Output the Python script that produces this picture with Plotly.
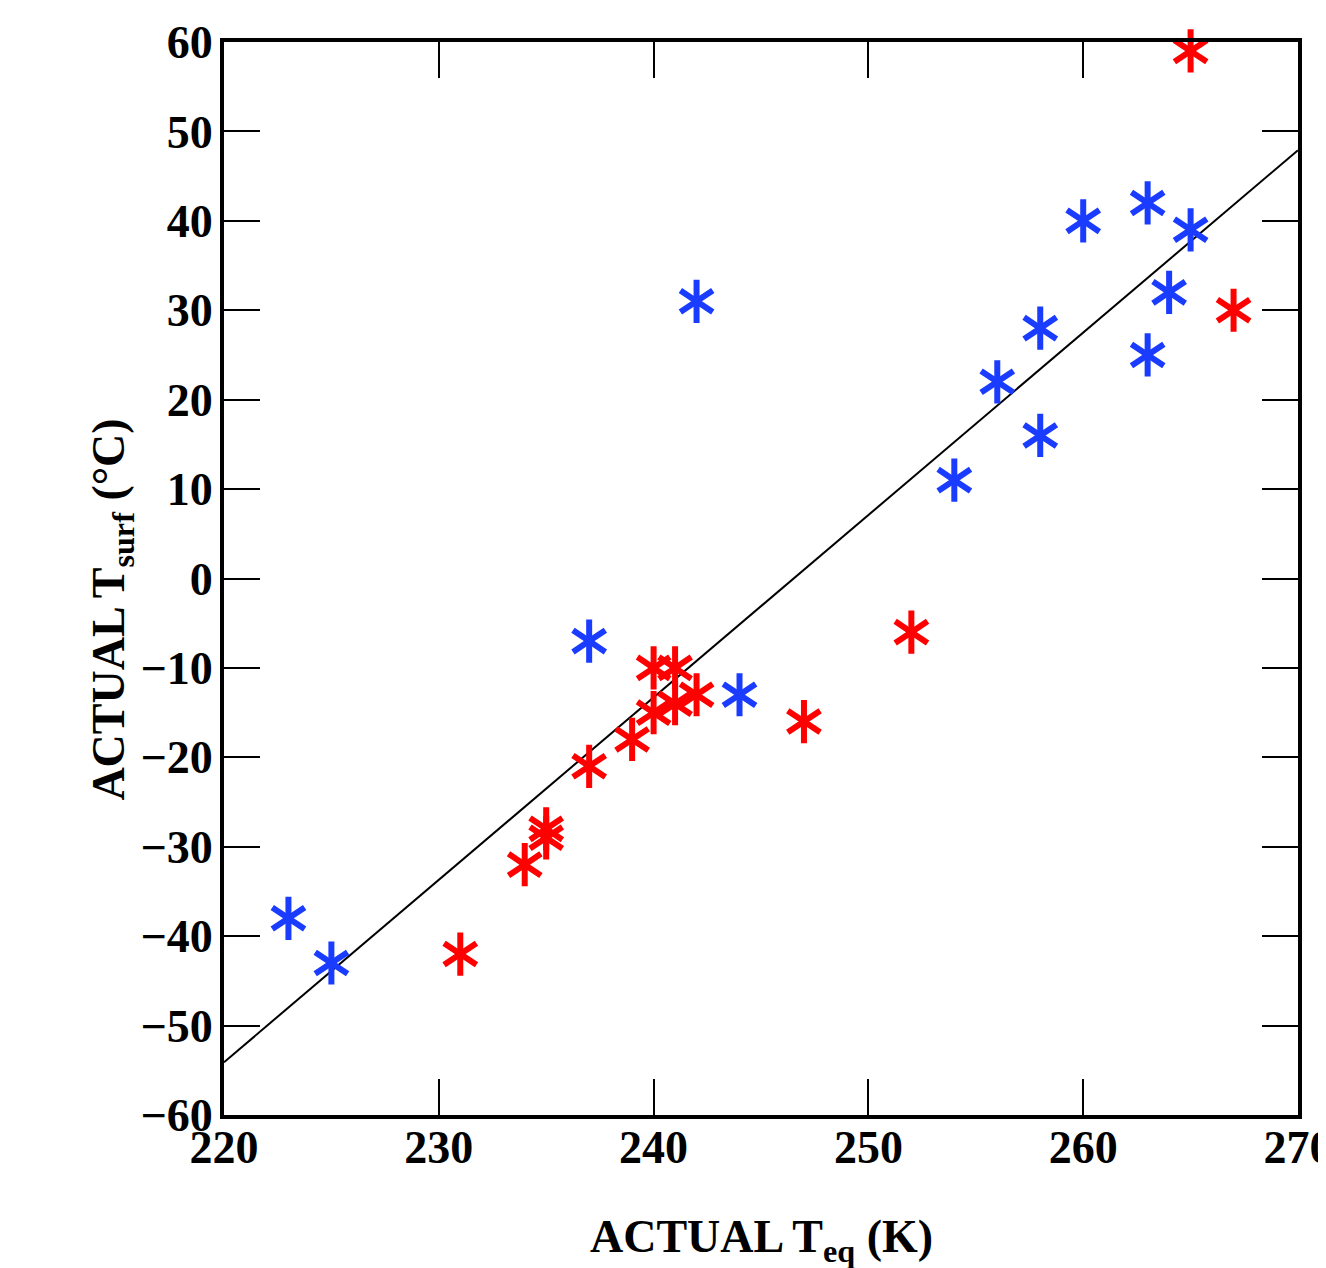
import plotly.graph_objects as go

# blue series
blue_x = [223, 225, 237, 242, 244, 254, 256, 258, 258, 260, 263, 263, 264, 265]
blue_y = [-38, -43, -7, 31, -13, 11, 22, 28, 16, 40, 42, 25, 32, 39]

# red series
red_x = [265, 267, 252, 247, 231, 234, 235, 235, 237, 239, 240, 241, 240, 241, 242]
red_y = [59, 30, -6, -16, -42, -32, -28, -29, -21, -18, -10, -10, -15, -14, -13]

# fitted line endpoints
fit_x = [220, 270]
fit_y = [-54.1, 47.9]

x_ticks = [220, 230, 240, 250, 260, 270]
y_ticks = [-60, -50, -40, -30, -20, -10, 0, 10, 20, 30, 40, 50, 60]

BLUE = '#1a3cff'
RED = '#ff0000'
FONT = dict(family='Liberation Serif', size=46, color='black', weight='bold')

fig = go.Figure()

fig.add_trace(go.Scatter(x=fit_x, y=fit_y, mode='lines',
                         line=dict(color='black', width=2), showlegend=False))

# six-armed asterisk = y-up + y-down overlaid
for xs, ys, col in [(blue_x, blue_y, BLUE), (red_x, red_y, RED)]:
    for sym in ['y-up-open', 'y-down-open']:
        fig.add_trace(go.Scatter(
            x=xs, y=ys, mode='markers', cliponaxis=False, showlegend=False,
            marker=dict(symbol=sym, size=27, color=col,
                        line=dict(color=col, width=6))
        ))

axis_common = dict(
    showline=True, linewidth=4, linecolor='black', mirror='ticks',
    ticks='inside', ticklen=36, tickwidth=2, tickcolor='black',
    showgrid=False, zeroline=False, tickfont=FONT,
    ticklabeloverflow='allow', automargin=False,
)

fig.update_layout(
    width=1326, height=1268, autosize=False,
    margin=dict(l=216, r=36, t=34, b=161, autoexpand=False),
    plot_bgcolor='white', paper_bgcolor='white',
    xaxis=dict(range=[220, 270], tickvals=x_ticks, ticklabelstandoff=-11,
               **axis_common),
    yaxis=dict(range=[-60, 60], tickvals=y_ticks, ticklabelstandoff=-2,
               **axis_common),
    annotations=[
        dict(text='ACTUAL T<sub>eq</sub> (K)', xref='paper', yref='paper',
             x=0.5, y=0, yshift=-125, xanchor='center', yanchor='middle',
             showarrow=False, font=FONT),
        dict(text='ACTUAL T<sub>surf</sub> (°C)', xref='paper', yref='paper',
             x=0, xshift=-112, y=0.471, xanchor='center', yanchor='middle',
             textangle=-90, showarrow=False, font=FONT),
    ],
)

fig.write_html("out.html")
